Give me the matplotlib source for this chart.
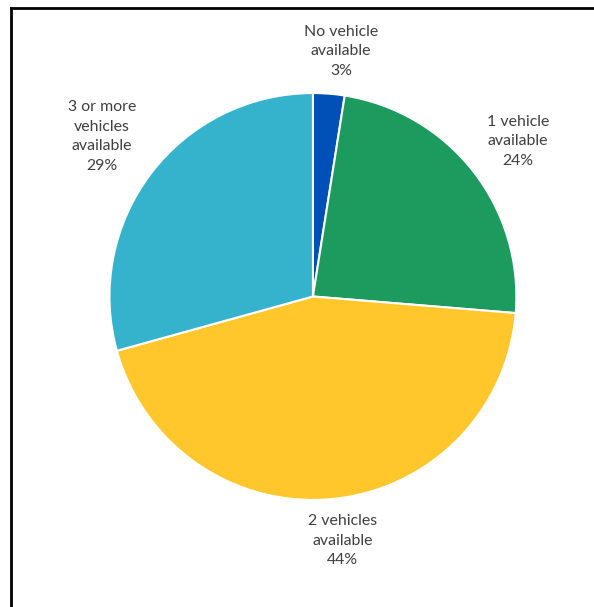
import matplotlib.pyplot as plt
from matplotlib.lines import Line2D

labels = ["No vehicle\navailable\n3%", "1 vehicle\navailable\n24%",
          "2 vehicles\navailable\n44%", "3 or more\nvehicles\navailable\n29%"]
shares = [2.5, 23.8, 44.4, 29.3]
colors = ["#0050B8", "#1D9A5E", "#FFC72C", "#35B3CD"]
# label centres, in units of the pie radius
label_pos = [(0.138, 1.205), (1.007, 0.762), (0.147, -1.20), (-1.037, 0.786)]

fig = plt.figure(figsize=(5.94, 6.07), dpi=100)
ax = fig.add_axes([0.1843, 0.1763, 0.685, 0.6705])
ax.pie(shares, colors=colors, startangle=90, counterclock=False,
       wedgeprops=dict(edgecolor="white", linewidth=1.5))
for lab, (x, y) in zip(labels, label_pos):
    ax.text(x, y, lab, ha="center", va="center", fontsize=11.4, family="Lato",
            color="#404040", linespacing=1.5)
ax.set_xlim(-1, 1)
ax.set_ylim(-1, 1)
ax.set_aspect("equal")

# frame lines at top and left
fig.add_artist(Line2D([0.0193, 1.0], [0.9860, 0.9860], color="black", lw=2, transform=fig.transFigure))
fig.add_artist(Line2D([0.0193, 0.0193], [0.0, 0.9860], color="black", lw=2, transform=fig.transFigure))

fig.savefig("out.png", dpi=100)
